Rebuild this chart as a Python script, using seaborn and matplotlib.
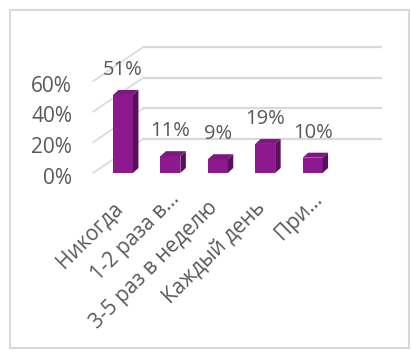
import matplotlib
matplotlib.use("Agg")
import matplotlib.pyplot as plt
import seaborn as sns
import pandas as pd
from matplotlib.patches import Polygon, Rectangle
from matplotlib.transforms import offset_copy

categories = ["Никогда", "1-2 раза в...", "3-5 раз в неделю", "Каждый день", "При..."]
values = [0.51, 0.11, 0.09, 0.19, 0.10]
value_labels = ["51%", "11%", "9%", "19%", "10%"]
yticks = [0.0, 0.2, 0.4, 0.6]
ytick_labels = ["0%", "20%", "40%", "60%"]

sns.set_theme(style="white")
plt.rcParams['font.family'] = ['Open Sans', 'DejaVu Sans']

TEXT = "#595959"
GRID = "#D9D9D9"
FRONT = "#8C1A8E"
SIDE = "#5A0E5E"
TOP = "#7E1684"

W, H = 411, 354
fig = plt.figure(figsize=(W / 100, H / 100), dpi=100)

# pixel geometry of the (front) plotting frame
x0, x1 = 93, 382
ybot = 173
yscale = 153.0          # px per 1.0 (100%)
xstep = 47.4            # px per category
c0 = 123                # px centre of first category
ymax = 0.8
ax = fig.add_axes([x0 / W, (H - ybot) / H, (x1 - x0) / W, ymax * yscale / H])

df = pd.DataFrame({"cat": categories, "val": values})
sns.barplot(data=df, x="cat", y="val", order=categories, color=FRONT,
            saturation=1, width=0.42, ax=ax, zorder=3, edgecolor="none")

xl = -(c0 - x0) / xstep
xr = (x1 - c0) / xstep
ax.set_xlim(xl, xr)
ax.set_ylim(0, ymax)
ax.axis("off")

# perspective offsets
gdx, gdy = 50 / xstep, 34 / yscale     # back wall offset
bdx, bdy = 5.5 / xstep, 5 / yscale     # bar depth

for v in yticks:
    ax.plot([xl + gdx, xr], [v + gdy, v + gdy], color=GRID, lw=1.6,
            clip_on=False, zorder=1, solid_capstyle="butt")
    ax.plot([xl, xl + gdx], [v, v + gdy], color=GRID, lw=1.2,
            clip_on=False, zorder=1)

# 3-D faces of the bars
for p in list(ax.patches):
    x, w, h = p.get_x(), p.get_width(), p.get_height()
    side = Polygon([(x + w, 0), (x + w + bdx, bdy), (x + w + bdx, h + bdy), (x + w, h)],
                   closed=True, facecolor=SIDE, edgecolor="none", zorder=4)
    top = Polygon([(x, h), (x + bdx, h + bdy), (x + w + bdx, h + bdy), (x + w, h)],
                  closed=True, facecolor=TOP, edgecolor="none", zorder=4)
    ax.add_patch(side)
    ax.add_patch(top)

# y labels
for v, lab in zip(yticks, ytick_labels):
    tr = offset_copy(ax.transData, fig=fig, x=-21, y=-5, units="dots")
    ax.text(xl, v, lab, transform=tr, ha="right", va="center",
            fontsize=15, color=TEXT, clip_on=False)

# value labels
for i, (v, lab) in enumerate(zip(values, value_labels)):
    tr = offset_copy(ax.transData, fig=fig, x=0, y=25, units="dots")
    ax.text(i, v, lab, transform=tr, ha="center", va="center",
            fontsize=14.5, color=TEXT, clip_on=False)

# category labels
for i, lab in enumerate(categories):
    extra = 9 if lab.endswith("...") else 0
    tr = offset_copy(ax.transData, fig=fig, x=-3 + extra, y=-32 + extra, units="dots")
    ax.text(i, 0, lab, transform=tr, ha="right", va="center", rotation=45,
            rotation_mode="anchor", fontsize=15, color=TEXT, clip_on=False)

# chart frame
fig.add_artist(Rectangle((10 / W, 6 / H), 399 / W, 338 / H, transform=fig.transFigure,
                         facecolor="none", edgecolor=GRID, lw=1.5))

fig.savefig("out.png", dpi=100)
